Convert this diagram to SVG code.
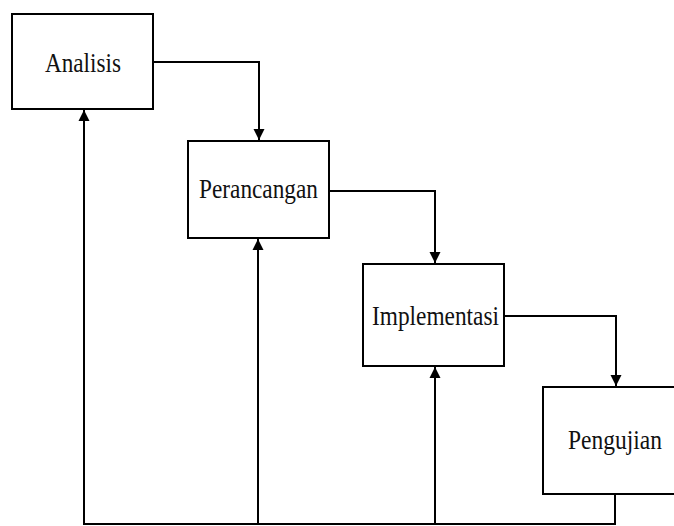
<svg xmlns="http://www.w3.org/2000/svg" width="674" height="526" viewBox="0 0 674 526">
<style>
.box{fill:#fff;stroke:#000;stroke-width:2}
.lbl{font-family:"Liberation Serif","Times New Roman",serif;font-size:27px;fill:#111;text-anchor:middle}
.con{fill:none;stroke:#000;stroke-width:2}
</style>
<defs>
<marker id="ah" viewBox="0 0 10 10" refX="10" refY="5" markerWidth="5.5" markerHeight="6" markerUnits="strokeWidth" orient="auto">
<path d="M0,0 L10,5 L0,10 z" fill="#000"/>
</marker>
</defs>
<rect width="674" height="526" fill="#fff"/>
<g id="connectors">
<path class="con" d="M153,62 H259 V140" marker-end="url(#ah)"/>
<path class="con" d="M329,191 H435 V263" marker-end="url(#ah)"/>
<path class="con" d="M504,316 H616 V386" marker-end="url(#ah)"/>
<path class="con" d="M615,494 V524 H84 V110" marker-end="url(#ah)"/>
<path class="con" d="M258,524 V239" marker-end="url(#ah)"/>
<path class="con" d="M435,524 V367" marker-end="url(#ah)"/>
</g>
<g id="analisis">
<rect class="box" x="12" y="14" width="141" height="95"/>
<text class="lbl" x="83" y="72" textLength="76" lengthAdjust="spacingAndGlyphs">Analisis</text>
</g>
<g id="perancangan">
<rect class="box" x="188" y="141" width="141" height="97"/>
<text class="lbl" x="258.5" y="198" textLength="119" lengthAdjust="spacingAndGlyphs">Perancangan</text>
</g>
<g id="implementasi">
<rect class="box" x="363" y="264" width="141" height="102"/>
<text class="lbl" x="435.5" y="325" textLength="127" lengthAdjust="spacingAndGlyphs">Implementasi</text>
</g>
<g id="pengujian">
<rect class="box" x="543" y="387" width="140" height="107"/>
<text class="lbl" x="615" y="449" textLength="94" lengthAdjust="spacingAndGlyphs">Pengujian</text>
</g>
</svg>
